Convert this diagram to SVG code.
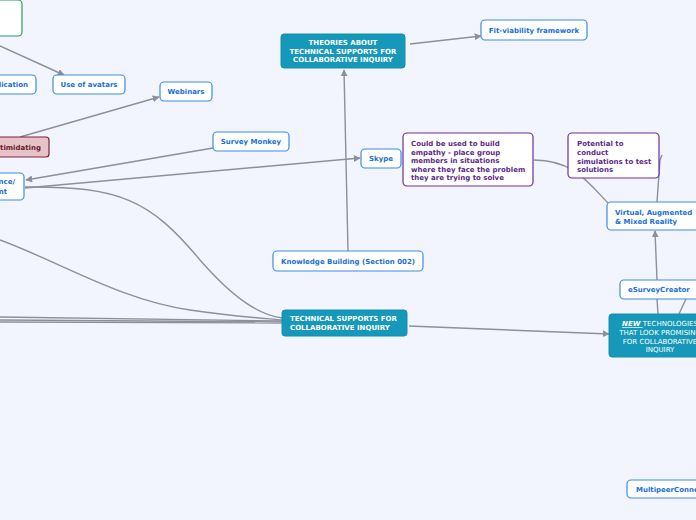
<svg xmlns="http://www.w3.org/2000/svg" width="696" height="520" viewBox="0 0 696 520">
<defs>
<marker id="arr" viewBox="0 0 10 10" refX="9" refY="5" markerWidth="7" markerHeight="7" markerUnits="userSpaceOnUse" orient="auto">
<path d="M0,0 L10,5 L0,10 z" fill="#8d9098"/>
</marker>
</defs>
<style>
.bg{fill:#f2f5fe}
.n{fill:#ffffff;stroke:#3d8ce8;stroke-width:1.2}
.t{font-family:"DejaVu Sans",Verdana,sans-serif;font-weight:bold;font-size:7px;fill:#1a6fd8}
.p{fill:#ffffff;stroke:#6b2f95;stroke-width:1.2}
.pt{font-family:"DejaVu Sans",Verdana,sans-serif;font-weight:bold;font-size:7px;fill:#5d2a8a}
.tl{fill:#1598b9;stroke:#1590b0;stroke-width:1}
.tt{font-family:"DejaVu Sans",Verdana,sans-serif;font-weight:bold;font-size:7px;fill:#ffffff}
.tn{font-family:"DejaVu Sans",Verdana,sans-serif;font-size:7px;fill:#ffffff}
.c{fill:none;stroke:#8d9098;stroke-width:1.4}
</style>
<rect class="bg" x="0" y="0" width="696" height="520"/>
<g id="connectors">
<path class="c" d="M0,46 L64,75" marker-end="url(#arr)"/>
<path class="c" d="M20,137 L159,97" marker-end="url(#arr)"/>
<path class="c" d="M213,148 L26,180" marker-end="url(#arr)"/>
<path class="c" d="M25,188 L360,158" marker-end="url(#arr)"/>
<path class="c" d="M25,187 C120,186 150,200 200,260 C235,300 260,315 282,318" stroke-width="1.2"/>
<path class="c" d="M0,240 C60,262 120,300 190,310 C230,316 260,318 282,320" stroke-width="2"/>
<path class="c" d="M0,317 L282,321" stroke-width="2"/>
<path class="c" d="M0,320 L282,322" stroke-width="2"/>
<path class="c" d="M0,322 L282,323" stroke-width="2"/>
<path class="c" d="M348,251 L344,70" marker-end="url(#arr)"/>
<path class="c" d="M410,44 L481,36" marker-end="url(#arr)"/>
<path class="c" d="M409,326 L609,334" marker-end="url(#arr)"/>
<path class="c" d="M534,160 C575,160 590,185 608,203" stroke-width="1.2"/>
<path class="c" d="M657,202 L660,160 L662,155"/>
<path class="c" d="M657,280 L655,231" marker-end="url(#arr)"/>
<path class="c" d="M658,314 L657,299"/>
<path class="c" d="M679,314 L686,299"/>
</g>
<g id="green-node">
<rect x="-60" y="0" width="82" height="36" rx="4" fill="#ffffff" stroke="#2e9a5c" stroke-width="1.2"/>
</g>
<g id="application">
<rect class="n" x="-40" y="75" width="76" height="19" rx="4"/>
<text class="t" x="28" y="87" text-anchor="end">Application</text>
</g>
<g id="avatars">
<rect class="n" x="53" y="75" width="72" height="19" rx="4"/>
<text class="t" x="89" y="87" text-anchor="middle">Use of avatars</text>
</g>
<g id="webinars">
<rect class="n" x="160" y="82" width="52" height="19" rx="4"/>
<text class="t" x="186" y="94" text-anchor="middle">Webinars</text>
</g>
<g id="intimidating">
<rect x="-30" y="137" width="79" height="20" rx="3" fill="#e6c3c8" stroke="#7a2236" stroke-width="1.2"/>
<text x="41" y="150" text-anchor="end" font-family="DejaVu Sans,Verdana,sans-serif" font-weight="bold" font-size="7" fill="#6a1a2a">Intimidating</text>
</g>
<g id="presence">
<rect class="n" x="-60" y="173" width="84" height="27" rx="4"/>
<text class="t" x="15" y="184" text-anchor="end">Presence/</text>
<text class="t" x="7" y="194" text-anchor="end">Engagement</text>
</g>
<g id="survey-monkey">
<rect class="n" x="213" y="132" width="76" height="19" rx="4"/>
<text class="t" x="251" y="144" text-anchor="middle">Survey Monkey</text>
</g>
<g id="skype">
<rect class="n" x="361" y="149" width="40" height="19" rx="4"/>
<text class="t" x="381" y="161" text-anchor="middle">Skype</text>
</g>
<g id="empathy">
<rect class="p" x="403" y="133" width="130" height="53" rx="4"/>
<text class="pt" x="411" y="146">Could be used to build</text>
<text class="pt" x="411" y="154.5">empathy - place group</text>
<text class="pt" x="411" y="163">members in situations</text>
<text class="pt" x="411" y="171.5">where they face the problem</text>
<text class="pt" x="411" y="180">they are trying to solve</text>
</g>
<g id="potential">
<rect class="p" x="568" y="133" width="91" height="45" rx="4"/>
<text class="pt" x="577" y="146">Potential to</text>
<text class="pt" x="577" y="155">conduct</text>
<text class="pt" x="577" y="163.5">simulations to test</text>
<text class="pt" x="577" y="172">solutions</text>
</g>
<g id="vr">
<rect class="n" x="607" y="202" width="95" height="28" rx="4"/>
<text class="t" x="615" y="215">Virtual, Augmented</text>
<text class="t" x="615" y="224">&amp; Mixed Reality</text>
</g>
<g id="esurvey">
<rect class="n" x="620" y="280" width="80" height="19" rx="4"/>
<text class="t" x="628" y="292">eSurveyCreator</text>
</g>
<g id="new-tech">
<rect class="tl" x="609" y="314" width="102" height="43" rx="3"/>
<text class="tn" x="660" y="326" text-anchor="middle"><tspan font-weight="bold" font-style="italic" text-decoration="underline">NEW </tspan>TECHNOLOGIES</text>
<text class="tn" x="660" y="335" text-anchor="middle">THAT LOOK PROMISING</text>
<text class="tn" x="660" y="343.5" text-anchor="middle">FOR COLLABORATIVE</text>
<text class="tn" x="660" y="352" text-anchor="middle">INQUIRY</text>
</g>
<g id="multipeer">
<rect class="n" x="627" y="480" width="110" height="18" rx="4"/>
<text class="t" x="636" y="492">MultipeerConnectivity</text>
</g>
<g id="theories">
<rect class="tl" x="281" y="34" width="124" height="34" rx="3"/>
<text class="tt" x="343" y="45" text-anchor="middle">THEORIES ABOUT</text>
<text class="tt" x="343" y="54" text-anchor="middle">TECHNICAL SUPPORTS FOR</text>
<text class="tt" x="343" y="62" text-anchor="middle">COLLABORATIVE INQUIRY</text>
</g>
<g id="fit-viability">
<rect class="n" x="481" y="20" width="106" height="20" rx="4"/>
<text class="t" x="534" y="33" text-anchor="middle">Fit-viability framework</text>
</g>
<g id="knowledge-building">
<rect class="n" x="273" y="251" width="150" height="20" rx="4"/>
<text class="t" x="348" y="264" text-anchor="middle">Knowledge Building (Section 002)</text>
</g>
<g id="technical-supports">
<rect class="tl" x="282" y="310" width="125" height="26" rx="3"/>
<text class="tt" x="290" y="321">TECHNICAL SUPPORTS FOR</text>
<text class="tt" x="290" y="330">COLLABORATIVE INQUIRY</text>
</g>
</svg>
